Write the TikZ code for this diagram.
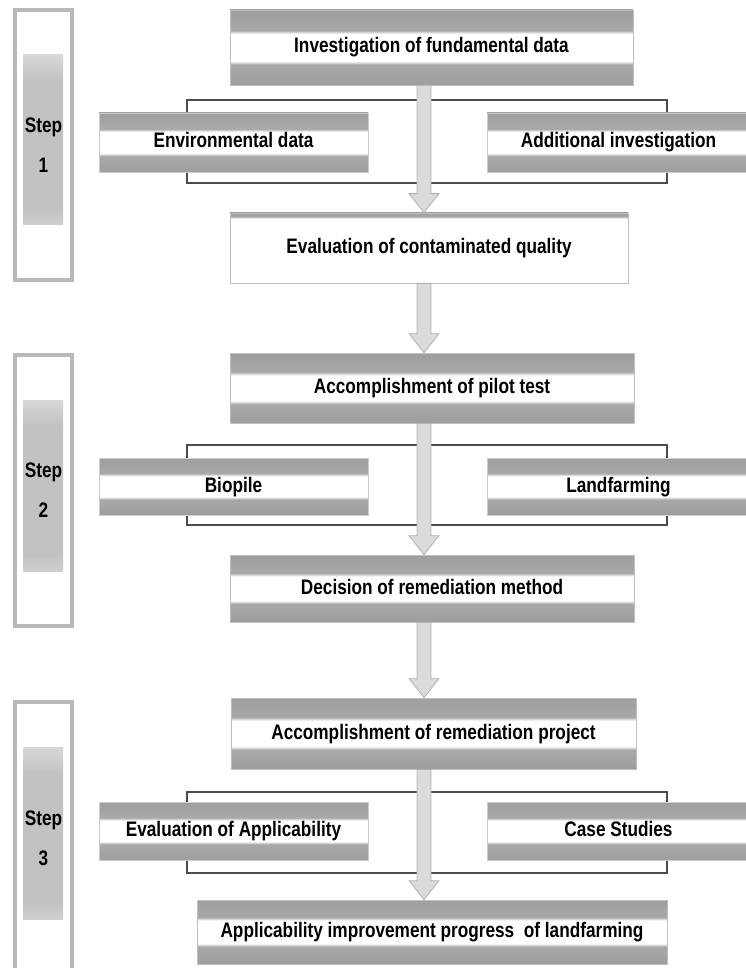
\documentclass[tikz,border=0pt]{standalone}
\usepackage{fontspec}
\newfontfamily\diafont[FakeStretch=0.82]{Liberation Sans}
\usetikzlibrary{calc}
\colorlet{bandg}{black!38}
\colorlet{bandl}{black!34}
\colorlet{stripg}{black!24}
\pgfdeclareverticalshading{bands}{100bp}{color(0bp)=(bandg); color(25bp)=(bandg); color(38.5bp)=(bandl); color(41bp)=(white); color(59bp)=(white); color(61.5bp)=(bandl); color(75bp)=(bandg); color(100bp)=(bandg)}
\pgfdeclareverticalshading{topline}{100bp}{color(0bp)=(white); color(71bp)=(white); color(72.5bp)=(bandl); color(75bp)=(bandg); color(100bp)=(bandg)}
\pgfdeclareverticalshading{stepstrip}{100bp}{color(0bp)=(white); color(25bp)=(white); color(38bp)=(stripg); color(62bp)=(stripg); color(75bp)=(white); color(100bp)=(white)}
\newcommand\flowarrow[2]{%
  \path[flowarrowstyle] let \p1=(ax |- #1.south), \p2=(ax |- #2.north) in
  (\x1-7pt,\y1) -- (\x1-7pt,\y2+19pt) -- (\x1-15pt,\y2+19pt) -- (\x1,\y2)
  -- (\x1+15pt,\y2+19pt) -- (\x1+7pt,\y2+19pt) -- (\x1+7pt,\y1) -- cycle;}
\begin{document}
\begin{tikzpicture}[x=1pt,y=-1pt,
  txt/.style={font=\diafont\bfseries\fontsize{21pt}{24pt}\selectfont, text=black, inner sep=0pt},
  boxtxt/.style={txt, text height=15pt, text depth=4pt},
  mainbox/.style={boxtxt, draw=gray!50, line width=0.7pt, shading=bands, rectangle},
  evalbox/.style={boxtxt, draw=gray!50, line width=0.7pt, shading=topline, rectangle},
  sidebox/.style={boxtxt, draw=gray!40, line width=0.5pt, shading=bands, rectangle, minimum width=269pt},
  stepbox/.style={txt, draw=gray!55, line width=3.5pt, fill=white, rectangle, align=center,
    minimum width=57pt,
    path picture={\shade[shading=stepstrip]
      ($(path picture bounding box.north west)+(8pt,-45pt)$) rectangle
      ($(path picture bounding box.south east)+(-9pt,55pt)$);}},
  bracketline/.style={draw=black!70, line width=1.2pt},
  flowarrowstyle/.style={fill=gray!28, draw=gray!60, line width=0.8pt}]
\useasboundingbox (0,0) rectangle (746,968);

% step boxes
\node[stepbox, minimum height=270pt] (s1) at (43.5,145) {Step\\[16pt]1};
\node[stepbox, minimum height=271pt] (s2) at (43.5,490.5) {Step\\[16pt]2};
\node[stepbox, minimum height=272pt] (s3) at (43.5,838) {Step\\[16pt]3};

% axis of the flow arrows
\coordinate (ax) at (424,0);

% brackets
\draw[bracketline] (187,100) rectangle (667,183);
\draw[bracketline] (187,445) rectangle (667,525);
\draw[bracketline] (187,792) rectangle (667,873);

% side boxes
\node[sidebox, minimum height=59pt] (env) at (233.5,142.5) {Environmental data};
\node[sidebox, minimum height=59pt, minimum width=263pt] (add) at (618.5,142.5) {Additional investigation};
\node[sidebox, minimum height=57pt] (bio) at (233.5,486.5) {Biopile};
\node[sidebox, minimum height=57pt, minimum width=263pt] (land) at (618.5,486.5) {Landfarming};
\node[sidebox, minimum height=58pt] (appl) at (233.5,831) {Evaluation of Applicability};
\node[sidebox, minimum height=58pt, minimum width=263pt] (case) at (618.5,831) {Case Studies};

% main boxes
\node[mainbox, minimum width=403pt, minimum height=75pt] (inv) at (431.5,47.5) {Investigation of fundamental data};
\node[evalbox, minimum width=398pt, minimum height=70pt] (eval) at (429,248) {Evaluation of contaminated quality};
\node[mainbox, minimum width=404pt, minimum height=70pt] (pilot) at (432,388) {Accomplishment of pilot test};
\node[mainbox, minimum width=404pt, minimum height=67pt] (dec) at (432,588.5) {Decision of remediation method};
\node[mainbox, minimum width=405pt, minimum height=71pt] (proj) at (433.5,733.5) {Accomplishment of remediation project};
\node[mainbox, minimum width=470pt, minimum height=64pt] (fin) at (432,932) {Applicability improvement progress\ \ of landfarming};

% flow arrows
\flowarrow{inv}{eval}
\flowarrow{eval}{pilot}
\flowarrow{pilot}{dec}
\flowarrow{dec}{proj}
\flowarrow{proj}{fin}
\end{tikzpicture}
\end{document}
